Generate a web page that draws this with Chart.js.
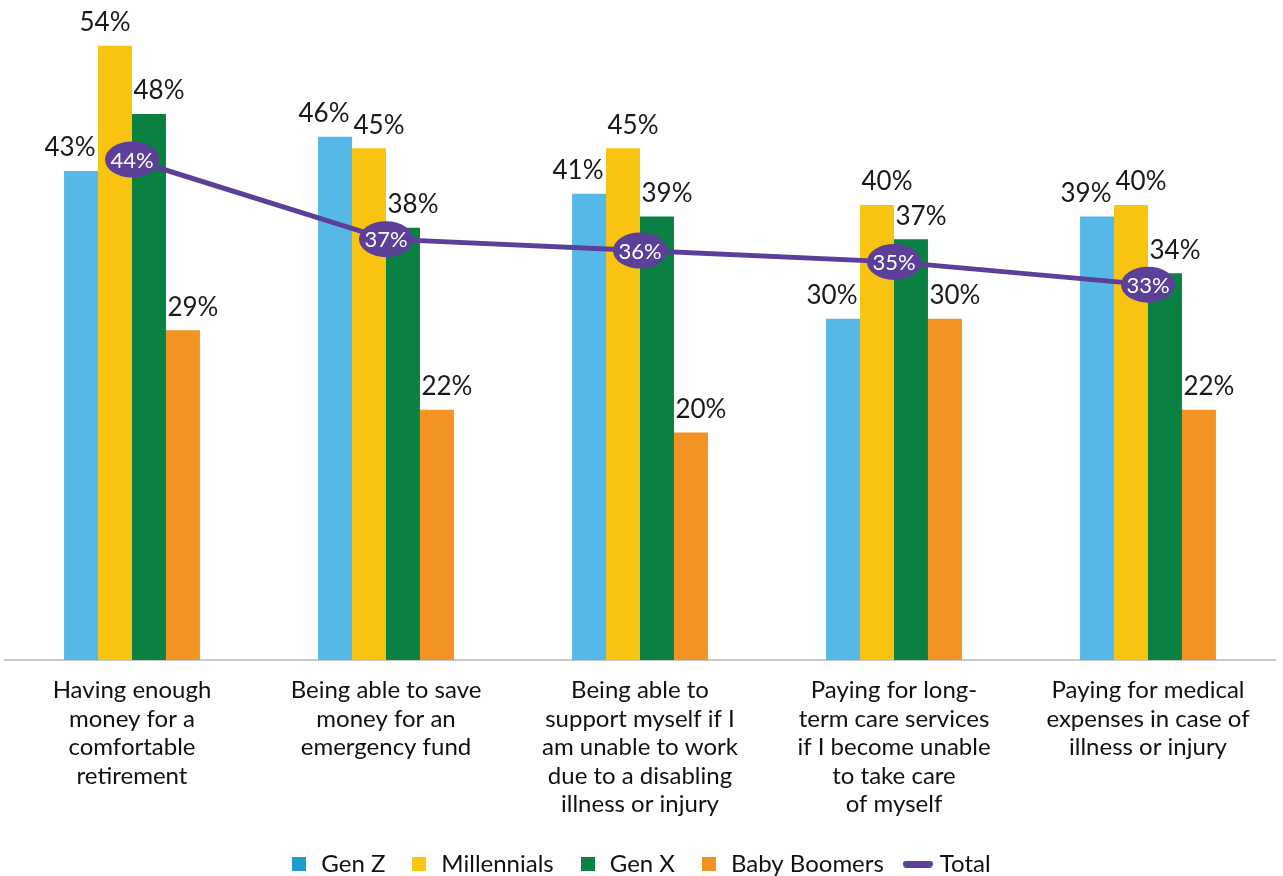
<!DOCTYPE html>
<html>
<head>
<meta charset="utf-8">
<script src="https://cdn.jsdelivr.net/npm/chart.js@4.4.0/dist/chart.umd.min.js"></script>
<style>
  html, body { margin: 0; padding: 0; background: #fff; }
  #wrap { width: 1283px; height: 876px; }
</style>
</head>
<body>
<div id="wrap"><canvas id="chart"></canvas></div>
<script>
const categories = [
  ['Having enough', 'money for a', 'comfortable', 'retirement'],
  ['Being able to save', 'money for an', 'emergency fund'],
  ['Being able to', 'support myself if I', 'am unable to work', 'due to a disabling', 'illness or injury'],
  ['Paying for long-', 'term care services', 'if I become unable', 'to take care', 'of myself'],
  ['Paying for medical', 'expenses in case of', 'illness or injury']
];
const genZ = [43, 46, 41, 30, 39];
const millennials = [54, 45, 45, 40, 40];
const genX = [48, 38, 39, 37, 34];
const babyBoomers = [29, 22, 20, 30, 22];
const total = [44, 37, 36, 35, 33];

const FONT = 'Lato';
const PURPLE = '#5c3f98';

// small canvases used as legend markers
function swatch(color, w, h, round) {
  const c = document.createElement('canvas');
  c.width = w;
  c.height = h;
  const g = c.getContext('2d');
  g.fillStyle = color;
  if (round) {
    g.beginPath();
    g.roundRect(0, 0, w, h, h / 2);
    g.fill();
  } else {
    g.fillRect(0, 0, w, h);
  }
  return c;
}

const legendMarks = [
  swatch('#1f9bc9', 14, 14),
  swatch('#f8c411', 14, 14),
  swatch('#0b8043', 14, 14),
  swatch('#f39323', 14, 14),
  swatch(PURPLE, 30, 7, true)
];

const valueLabels = {
  id: 'valueLabels',
  afterDatasetsDraw(chart) {
    const ctx = chart.ctx;
    ctx.save();
    ctx.textAlign = 'center';
    ctx.textBaseline = 'middle';

    // percentages above the bars
    ctx.font = '26px ' + FONT;
    ctx.fillStyle = '#1a1a1a';
    chart.data.datasets.forEach((ds, di) => {
      if (ds.type === 'line') return;
      chart.getDatasetMeta(di).data.forEach((bar, i) => {
        let shift = di === 0 ? -11 : 10;
        if (di === 1 && i === 0) shift = -10;
        ctx.fillText(ds.data[i] + '%', bar.x + shift, bar.y - 23);
      });
    });

    // ellipse badges on the total line
    const li = chart.data.datasets.findIndex(d => d.type === 'line');
    const lds = chart.data.datasets[li];
    ctx.font = '22px ' + FONT;
    chart.getDatasetMeta(li).data.forEach((pt, i) => {
      ctx.fillStyle = PURPLE;
      ctx.beginPath();
      ctx.ellipse(pt.x, pt.y, 27, 18, 0, 0, Math.PI * 2);
      ctx.fill();
      ctx.fillStyle = '#fff';
      ctx.fillText(lds.data[i] + '%', pt.x, pt.y + 1);
    });
    ctx.restore();
  }
};

new Chart(document.getElementById('chart'), {
  data: {
    labels: categories,
    datasets: [
      { type: 'bar', label: 'Gen Z', data: genZ, backgroundColor: '#55b8e8', order: 1 },
      { type: 'bar', label: 'Millennials', data: millennials, backgroundColor: '#f8c411', order: 1 },
      { type: 'bar', label: 'Gen X', data: genX, backgroundColor: '#0b8043', order: 1 },
      { type: 'bar', label: 'Baby Boomers', data: babyBoomers, backgroundColor: '#f39323', order: 1 },
      {
        type: 'line', label: 'Total', data: total,
        borderColor: PURPLE, backgroundColor: PURPLE,
        borderWidth: 5, pointRadius: 0, tension: 0, order: 0
      }
    ]
  },
  options: {
    responsive: true,
    maintainAspectRatio: false,
    animation: false,
    layout: { padding: { top: 23, left: 5, right: 8, bottom: -10 } },
    datasets: {
      bar: { barPercentage: 1, categoryPercentage: 0.535 }
    },
    scales: {
      x: {
        grid: { display: false, drawTicks: false },
        border: { display: true, color: '#c8c8c8', width: 2 },
        ticks: {
          color: '#111',
          padding: 16,
          maxRotation: 0,
          autoSkip: false,
          font: { family: FONT, size: 24, lineHeight: 1.19 }
        },
        afterFit(scale) { scale.height = 168; }
      },
      y: { display: false, min: 0, max: 56 }
    },
    plugins: {
      tooltip: { enabled: false },
      legend: {
        position: 'bottom',
        labels: {
          color: '#111',
          padding: 24,
          usePointStyle: true,
          pointStyleWidth: 20,
          font: { family: FONT, size: 24 },
          generateLabels(chart) {
            return chart.data.datasets.map((ds, i) => ({
              text: ds.label,
              fillStyle: ds.backgroundColor,
              strokeStyle: ds.backgroundColor,
              lineWidth: 0,
              pointStyle: legendMarks[i],
              fontColor: '#111',
              hidden: false,
              datasetIndex: i
            }));
          }
        }
      }
    }
  },
  plugins: [valueLabels]
});
</script>
</body>
</html>
